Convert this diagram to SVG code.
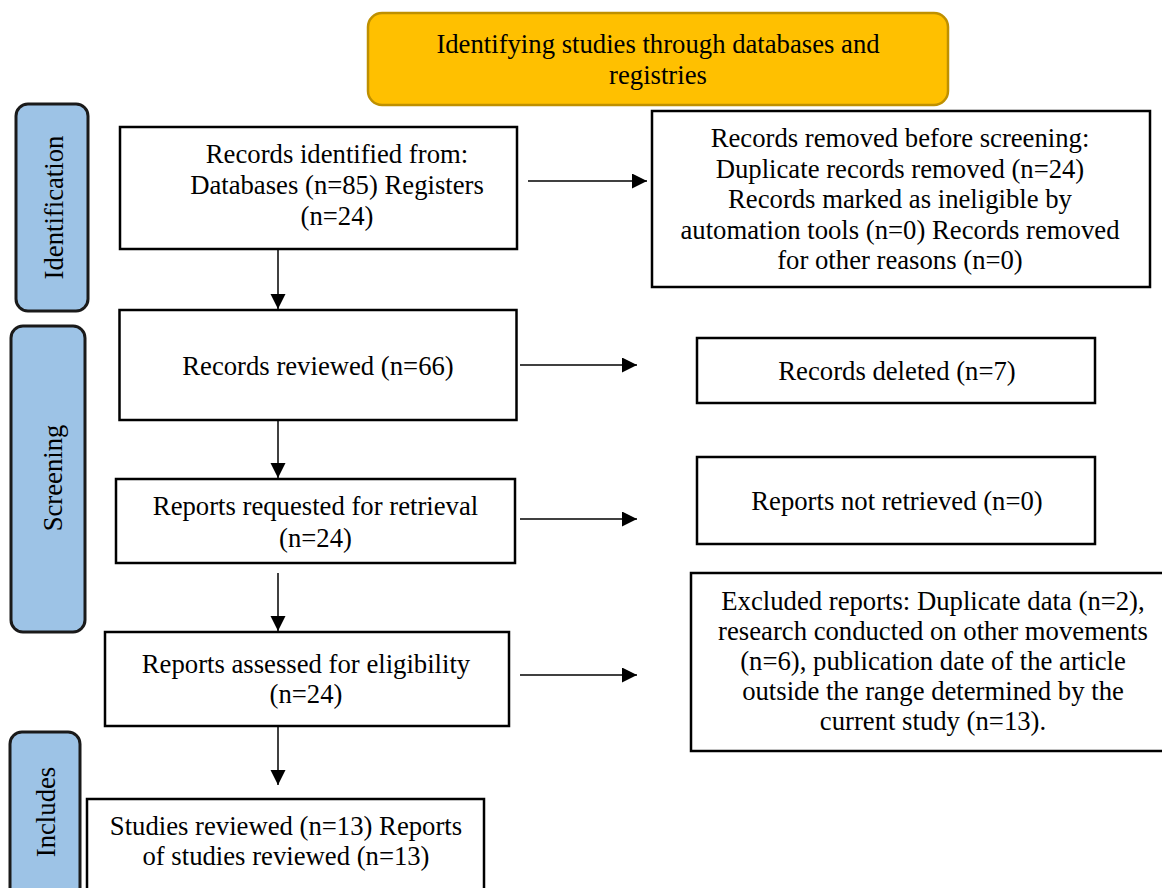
<svg xmlns="http://www.w3.org/2000/svg" width="1162" height="888" viewBox="0 0 1162 888" font-family="'Liberation Serif', 'DejaVu Serif', serif">
<style>
  text { font-family: 'Liberation Serif', 'DejaVu Serif', serif; font-size: 26.7px; fill: #000; text-anchor: middle; }
  .box { fill: #fff; stroke: #000; stroke-width: 2.5; }
  .side { fill: #9DC3E6; stroke: #1a1a1a; stroke-width: 3; }
  .title { fill: #FFC000; stroke: #BF9000; stroke-width: 2.5; }
  .conn line { stroke: #000; stroke-width: 1.5; marker-end: url(#arr); }
</style>
<defs>
  <marker id="arr" markerUnits="userSpaceOnUse" markerWidth="16" markerHeight="16" refX="15" refY="7.5" orient="auto">
    <path d="M0,0 L15,7.5 L0,15 z" fill="#000"/>
  </marker>
</defs>
<rect width="1162" height="888" fill="#fff"/>

<g id="title">
  <rect class="title" x="368" y="13" width="580" height="92" rx="14"/>
  <text x="658" y="53">Identifying studies through databases and</text>
  <text x="658" y="84">registries</text>
</g>

<g id="phase-identification">
  <rect class="side" x="16" y="104" width="72" height="207" rx="12"/>
  <text transform="translate(63 207.5) rotate(-90)">Identification</text>
</g>
<g id="phase-screening">
  <rect class="side" x="11" y="326" width="74" height="306" rx="12"/>
  <text transform="translate(62 478) rotate(-90)">Screening</text>
</g>
<g id="phase-includes">
  <rect class="side" x="10" y="732" width="70" height="170" rx="12"/>
  <text transform="translate(55 812) rotate(-90)">Includes</text>
</g>

<g id="records-identified">
  <rect class="box" x="120" y="127" width="397" height="122"/>
  <text x="337" y="163">Records identified from:</text>
  <text x="337" y="194">Databases (n=85) Registers</text>
  <text x="337" y="225">(n=24)</text>
</g>
<g id="records-removed">
  <rect class="box" x="652" y="111" width="498" height="176"/>
  <text x="900" y="147">Records removed before screening:</text>
  <text x="900" y="177.5">Duplicate records removed (n=24)</text>
  <text x="900" y="208">Records marked as ineligible by</text>
  <text x="900" y="238.5">automation tools (n=0) Records removed</text>
  <text x="900" y="269">for other reasons (n=0)</text>
</g>
<g id="records-reviewed">
  <rect class="box" x="119.5" y="310" width="397" height="110"/>
  <text x="318" y="375">Records reviewed (n=66)</text>
</g>
<g id="records-deleted">
  <rect class="box" x="697" y="338" width="398" height="65"/>
  <text x="897" y="380">Records deleted (n=7)</text>
</g>
<g id="reports-requested">
  <rect class="box" x="116" y="479" width="399" height="84"/>
  <text x="315.5" y="515">Reports requested for retrieval</text>
  <text x="315.5" y="547">(n=24)</text>
</g>
<g id="reports-not-retrieved">
  <rect class="box" x="697" y="457" width="398" height="87"/>
  <text x="897" y="510">Reports not retrieved (n=0)</text>
</g>
<g id="reports-assessed">
  <rect class="box" x="105" y="632" width="404" height="94"/>
  <text x="306" y="673">Reports assessed for eligibility</text>
  <text x="306" y="703">(n=24)</text>
</g>
<g id="reports-excluded">
  <rect class="box" x="691" y="573" width="480" height="178"/>
  <text x="933" y="610">Excluded reports: Duplicate data (n=2),</text>
  <text x="933" y="640">research conducted on other movements</text>
  <text x="933" y="670">(n=6), publication date of the article</text>
  <text x="933" y="700">outside the range determined by the</text>
  <text x="933" y="730">current study (n=13).</text>
</g>
<g id="studies-included">
  <rect class="box" x="87" y="799" width="397" height="100"/>
  <text x="286" y="835">Studies reviewed (n=13) Reports</text>
  <text x="286" y="865">of studies reviewed (n=13)</text>
</g>

<g id="connectors" class="conn">
  <line x1="528" y1="181" x2="647" y2="181"/>
  <line x1="278" y1="250" x2="278" y2="309"/>
  <line x1="520" y1="365" x2="637" y2="365"/>
  <line x1="278" y1="421" x2="278" y2="478"/>
  <line x1="520" y1="519" x2="637" y2="519"/>
  <line x1="278" y1="573" x2="278" y2="631"/>
  <line x1="520" y1="675" x2="637" y2="675"/>
  <line x1="278" y1="727" x2="278" y2="785"/>
</g>
</svg>
